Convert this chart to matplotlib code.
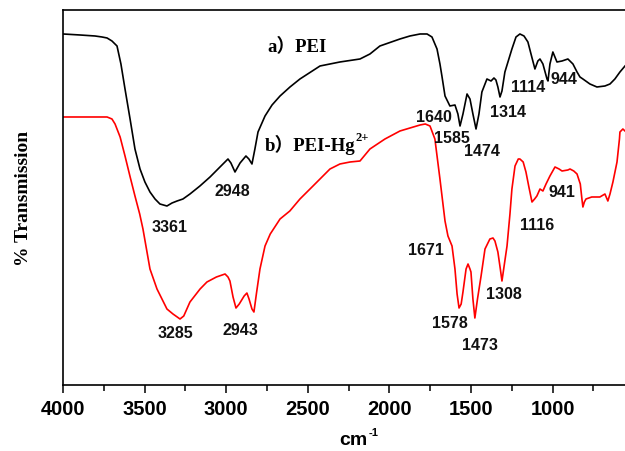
import matplotlib
matplotlib.use('Agg')
import matplotlib.pyplot as plt

# PEI spectrum (wavenumber cm-1, transmission arb. units)
pei_wn = [4000, 3896, 3804, 3761, 3730, 3700, 3669, 3645, 3620, 3589,
          3559, 3528, 3498, 3467, 3436, 3406, 3363, 3332, 3301, 3265,
          3222, 3161, 3099, 3038, 2989, 2971, 2946, 2915, 2879, 2861,
          2842, 2824, 2805, 2762, 2719, 2670, 2609, 2548, 2425, 2303,
          2180, 2119, 2058, 1935, 1874, 1812, 1769, 1739, 1708, 1690,
          1678, 1659, 1629, 1598, 1580, 1567, 1549, 1524, 1506, 1488,
          1469, 1451, 1433, 1402, 1377, 1359, 1347, 1335, 1322, 1310,
          1292, 1249, 1224, 1200, 1175, 1151, 1132, 1108, 1090, 1077,
          1059, 1034, 1028, 1016, 998, 973, 942, 906, 875, 850,
          832, 814, 771, 728, 679, 648, 618, 587, 556]
pei_t = [351, 350, 349, 348, 347, 344, 339, 321, 296, 266,
         236, 216, 203, 193, 186, 181, 179, 182, 184, 186,
         191, 199, 208, 218, 226, 222, 213, 222, 229, 226,
         221, 236, 253, 269, 280, 289, 298, 306, 319, 323,
         326, 331, 339, 346, 349, 351, 351, 348, 336, 321,
         309, 289, 279, 280, 271, 259, 271, 291, 286, 271,
         256, 271, 293, 306, 304, 307, 305, 298, 288, 294,
         313, 336, 348, 351, 349, 343, 331, 316, 324, 326,
         321, 306, 304, 321, 333, 323, 324, 326, 321, 313,
         308, 306, 301, 298, 299, 301, 306, 313, 319]

# PEI-Hg2+ spectrum
hg_wn = [4000, 3800, 3730, 3700, 3681, 3650, 3620, 3590, 3559, 3530,
         3510, 3467, 3424, 3363, 3326, 3300, 3283, 3260, 3222, 3160,
         3118, 3060, 3007, 2989, 2977, 2958, 2940, 2920, 2890, 2873,
         2860, 2842, 2830, 2815, 2793, 2762, 2730, 2670, 2610, 2548,
         2468, 2364, 2303, 2241, 2180, 2119, 2027, 1935, 1812, 1780,
         1751, 1721, 1690, 1659, 1641, 1616, 1598, 1585, 1573, 1560,
         1549, 1530, 1518, 1506, 1500, 1488, 1476, 1460, 1438, 1414,
         1384, 1365, 1353, 1335, 1320, 1310, 1295, 1279, 1261, 1249,
         1230, 1210, 1200, 1180, 1163, 1145, 1126, 1110, 1096, 1077,
         1059, 1040, 1016, 985, 960, 942, 906, 893, 870, 850,
         830, 820, 814, 805, 795, 760, 710, 679, 661, 648,
         630, 605, 590, 587, 569, 556]
hg_t = [268, 268, 268, 266, 261, 248, 229, 209, 189, 171,
        156, 116, 96, 76, 71, 68, 66, 69, 83, 96,
        103, 108, 111, 108, 104, 88, 77, 81, 89, 92,
        86, 76, 73, 91, 116, 139, 151, 166, 174, 186,
        199, 216, 221, 223, 224, 236, 246, 254, 260, 261,
        259, 246, 206, 164, 149, 139, 116, 91, 77, 81,
        93, 116, 121, 116, 113, 86, 67, 86, 109, 136,
        146, 147, 144, 133, 116, 104, 121, 139, 171, 196,
        219, 226, 226, 223, 213, 198, 183, 186, 189, 196,
        194, 201, 209, 218, 216, 214, 215, 216, 214, 211,
        201, 186, 178, 183, 186, 188, 188, 191, 184, 191,
        203, 223, 246, 253, 256, 254]

# peak labels
pei_peaks = ['3361', '2948', '1640', '1585', '1474', '1314', '1114', '944']
pei_peak_xy = [(3344, 158), (2964, 194), (1727, 268), (1616, 247),
               (1433, 234), (1273, 273), (1151, 298), (930, 306)]
hg_peaks = ['3285', '2943', '1671', '1578', '1473', '1308', '1116', '941']
hg_peak_xy = [(3308, 53), (2915, 56), (1776, 135), (1629, 63),
              (1445, 41), (1298, 92), (1096, 160), (942, 193)]

fig = plt.figure(figsize=(6.25, 4.52), dpi=100)
ax = fig.add_axes([0.1008, 0.146, 0.8992, 0.8297])

ax.plot(pei_wn, pei_t, color='black', lw=1.2)
ax.plot(hg_wn, hg_t, color='red', lw=1.2)

ax.set_xlim(4000, 556)
ax.set_ylim(0, 375)

for lab, (x, y) in zip(pei_peaks + hg_peaks, pei_peak_xy + hg_peak_xy):
    ax.text(x, y, lab, ha='center', va='center', fontsize=11.5,
            fontweight='bold', family='Liberation Sans', color='#111111')

serif = ['Liberation Serif', 'Noto Sans CJK SC']
ax.text(2750, 339, 'a）PEI', ha='left', va='center', fontsize=13.5,
        fontweight='bold', family=serif)
tb = ax.text(2762, 241, 'b）PEI-Hg', ha='left', va='center',
             fontsize=13.5, fontweight='bold', family=serif)
ax.annotate('2+', xy=(1, 0.55), xycoords=tb, xytext=(0, 0),
            textcoords='offset points', ha='left', va='bottom',
            fontsize=9, fontweight='bold', family='Liberation Serif')

ax.spines['right'].set_visible(False)
ax.spines['top'].set_linewidth(1.2)
ax.spines['left'].set_linewidth(1.2)
ax.spines['bottom'].set_linewidth(1.2)
ax.set_yticks([])
ax.set_xticks([4000, 3500, 3000, 2500, 2000, 1500, 1000])
ax.set_xticks([3750, 3250, 2750, 2250, 1750, 1250, 750], minor=True)
ax.tick_params(axis='x', which='major', direction='out', length=6, width=1.1,
               labelsize=14.5, pad=4)
ax.tick_params(axis='x', which='minor', direction='out', length=4, width=1.1)
for t in ax.get_xticklabels():
    t.set_fontweight('bold')
    t.set_family('Liberation Sans')

# x label with superscript
xl = fig.text(0.566, 0.0265, 'cm', ha='center', va='center', fontsize=14,
              fontweight='bold', family='Liberation Sans')
ax.annotate('-1', xy=(1, 0.6), xycoords=xl, xytext=(0.5, 0),
            textcoords='offset points', ha='left', va='bottom',
            fontsize=8, fontweight='bold', family='Liberation Sans')
ax.set_ylabel('% Transmission', fontsize=14, fontweight='bold',
              family='Liberation Serif', labelpad=22)

fig.savefig('out.png', dpi=100)
